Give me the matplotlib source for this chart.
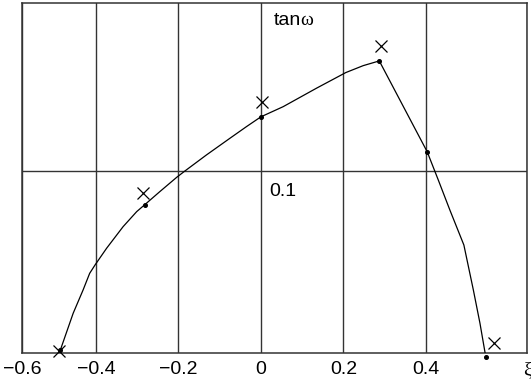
import matplotlib
matplotlib.use("Agg")
import matplotlib.pyplot as plt

# Computed curve tan(omega) against xi
curve_xi = [-0.486, -0.455, -0.431, -0.415, -0.402, -0.374, -0.334, -0.301,
            -0.281, -0.245, -0.204, -0.184, -0.132, -0.075, -0.035, 0.0,
            0.054, 0.135, 0.206, 0.248, 0.287, 0.403, 0.430, 0.458, 0.492,
            0.515, 0.531, 0.545]
curve_tan = [0.0014, 0.0216, 0.0344, 0.0436, 0.0482, 0.0574, 0.0693, 0.0776,
             0.0815, 0.0886, 0.0965, 0.1000, 0.1088, 0.1180, 0.1244, 0.1298,
             0.1354, 0.1456, 0.1542, 0.1580, 0.1606, 0.1106, 0.0950, 0.0785,
             0.0592, 0.0344, 0.0161, -0.0023]

# Computed points (dots on the curve)
calc_xi = [-0.486, -0.281, 0.0, 0.287, 0.403, 0.545]
calc_tan = [0.0014, 0.0815, 0.1298, 0.1606, 0.1106, -0.0023]

# Measured points (crosses)
meas_xi = [-0.489, -0.286, 0.002, 0.291, 0.565]
meas_tan = [0.0010, 0.0876, 0.1380, 0.1690, 0.0054]

x_grid = [-0.4, -0.2, 0.0, 0.2, 0.4]
x_labels = ["\u22120.6", "\u22120.4", "\u22120.2", "0", "0.2", "0.4", "\u03be"]
y_grid = [0.1]
y_label = "0.1"
x_range = (-0.579, 0.645)
y_range = (0.0, 0.1925)

plt.rcParams["font.family"] = ["Liberation Sans", "DejaVu Sans"]

fig = plt.figure(figsize=(5.31, 3.88), dpi=100)
ax = fig.add_axes([22 / 531, 35.5 / 388, 505 / 531, 349.5 / 388])

grid_color = "#333333"
ax.set_xlim(*x_range)
ax.set_ylim(*y_range)
ax.set_xticks([x_range[0]] + x_grid + [x_range[1]])
ax.set_xticklabels(x_labels, fontsize=14)
ax.get_xticklabels()[-1].set_fontfamily(["Liberation Serif", "DejaVu Serif"])
ax.set_yticks(y_grid)
ax.set_yticklabels([])
ax.tick_params(length=0, pad=6, colors="black")
ax.grid(True, color=grid_color, linewidth=1.0)
ax.set_axisbelow(True)
for sp in ax.spines.values():
    sp.set_color(grid_color)
    sp.set_linewidth(1.1)

ax.plot(curve_xi, curve_tan, color="black", linewidth=0.9, zorder=3)
ax.plot(calc_xi, calc_tan, linestyle="none", marker="o", markersize=2.6,
        color="black", zorder=4, clip_on=False)
ax.plot(meas_xi, meas_tan, linestyle="none", marker="x", markersize=8.5,
        markeredgewidth=0.9, color="black", zorder=4, clip_on=False)

# In-plot labels next to the xi = 0 grid line
tan_txt = ax.annotate("tan", xy=(0.0, y_range[1]), xycoords="data",
                      xytext=(9.0, -16.0), textcoords="offset points",
                      ha="left", va="baseline", fontsize=14)
ax.annotate("\u03c9", xy=(1, 0), xycoords=tan_txt, ha="left", va="bottom",
            fontsize=14, family=["Liberation Serif", "DejaVu Serif"])
ax.annotate(y_label, xy=(0.0, y_grid[0]), xycoords="data",
            xytext=(6.0, -18.0), textcoords="offset points",
            ha="left", va="baseline", fontsize=14)

fig.savefig("out.png", dpi=100)
